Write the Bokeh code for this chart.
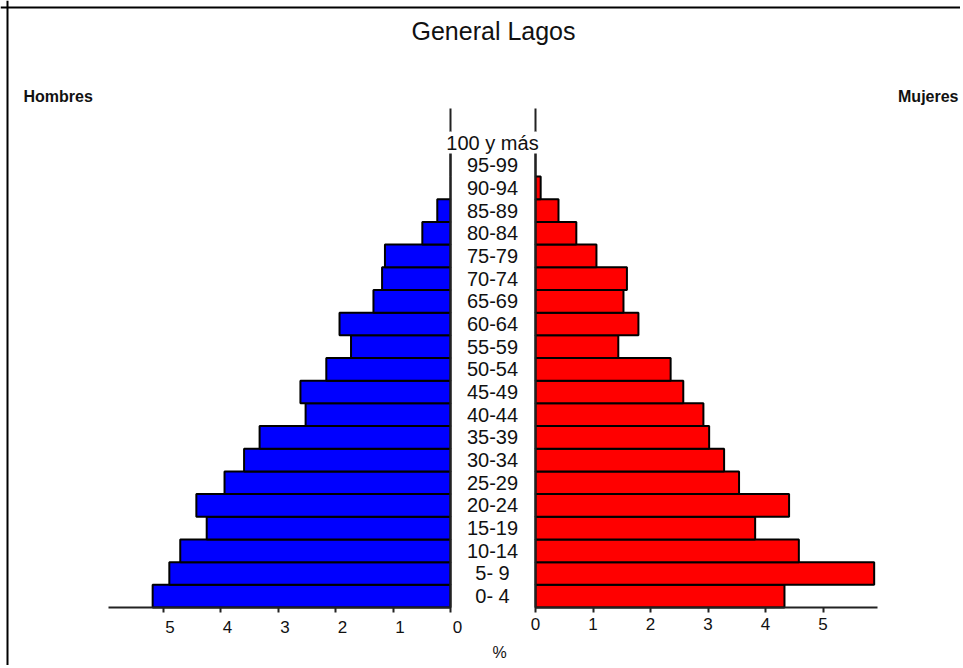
from bokeh.plotting import figure
from bokeh.models import Range1d, LinearAxis, FixedTicker, Label, ColumnDataSource
from bokeh.core.properties import value
from bokeh.embed import file_html
from bokeh.resources import INLINE

# ---------------- data ----------------
ages = ["0- 4", "5- 9", "10-14", "15-19", "20-24", "25-29", "30-34", "35-39",
        "40-44", "45-49", "50-54", "55-59", "60-64", "65-69", "70-74", "75-79",
        "80-84", "85-89", "90-94", "95-99", "100 y más"]
hombres = [5.18, 4.89, 4.70, 4.24, 4.42, 3.93, 3.59, 3.32, 2.52, 2.61, 2.16,
           1.73, 1.93, 1.34, 1.19, 1.14, 0.49, 0.23, 0.0, 0.0, 0.0]
mujeres = [4.33, 5.89, 4.58, 3.82, 4.41, 3.54, 3.28, 3.02, 2.92, 2.57, 2.35,
           1.44, 1.79, 1.53, 1.59, 1.06, 0.71, 0.40, 0.09, 0.0, 0.0]
x_ticks = [0, 1, 2, 3, 4, 5]
title_text = "General Lagos"
left_label = "Hombres"
right_label = "Mujeres"
x_label = "%"

# ---------------- geometry / style (page pixels) ----------------
FONT = "Liberation Sans"
INK = "#111111"
CW, CH = 960, 665            # canvas size; the frame fills the whole canvas
X_MAX = 5.95                 # extent of both value axes
PPU = 57.5                   # pixels per percent unit
ZERO_M, ZERO_F = 450, 535    # page x of the two zero lines
PLOT_TOP, PLOT_BOTTOM = 108, 607
ROW = (PLOT_BOTTOM - PLOT_TOP) / (len(ages) + 1)
y_start, y_end = -0.5, len(ages) + 0.5
PAD = "\u2007\u00a0"         # the male tick labels sit just right of their ticks

male_range = Range1d(start=ZERO_M / PPU, end=(ZERO_M - CW) / PPU)
female_range = Range1d(start=-ZERO_F / PPU, end=(CW - ZERO_F) / PPU)
y_range = Range1d(start=y_start - (CH - PLOT_BOTTOM) / ROW,
                  end=y_start + PLOT_BOTTOM / ROW)
page_x = Range1d(0, CW)
page_y = Range1d(CH, 0)

p = figure(width=CW, height=CH, min_border=0,
           x_range=page_x, y_range=y_range,
           x_axis_location=None, y_axis_location=None,
           toolbar_location=None, output_backend="svg")
p.extra_x_ranges = {"male": male_range, "female": female_range}
p.extra_y_ranges = {"page": page_y}
p.outline_line_color = None
p.grid.visible = False
p.background_fill_color = "white"
p.border_fill_color = "white"

src = ColumnDataSource(dict(y=list(range(len(ages))), age=ages, h=hombres, m=mujeres))

p.hbar(y="y", left=0, right="h", height=1.0, source=src, x_range_name="male",
       fill_color="#0000FF", line_color="black", line_width=2)
p.hbar(y="y", left=0, right="m", height=1.0, source=src, x_range_name="female",
       fill_color="#FF0000", line_color="black", line_width=2)

def bottom_axis(rng, overrides):
    ax = LinearAxis(x_range_name=rng, ticker=FixedTicker(ticks=x_ticks),
                    bounds=(0, X_MAX), fixed_location=y_start,
                    major_tick_in=0, major_tick_out=5, major_label_standoff=5,
                    minor_tick_line_color=None,
                    axis_line_width=2, axis_line_color="#222222",
                    major_tick_line_width=2, major_tick_line_color="#222222",
                    major_label_text_font=FONT, major_label_text_font_size="17px",
                    major_label_text_color=INK,
                    major_label_overrides=overrides)
    p.add_layout(ax, "below")

bottom_axis("male", {t: PAD + str(t) for t in x_ticks})
bottom_axis("female", {})

for rng in ("male", "female"):
    vax = LinearAxis(x_range_name=rng, fixed_location=0, bounds=(y_start, y_end),
                     ticker=FixedTicker(ticks=[]),
                     major_tick_line_color=None, minor_tick_line_color=None,
                     major_label_text_font_size="0px",
                     axis_line_width=2, axis_line_color="#222222")
    p.add_layout(vax, "left")

# chart border (left and top edges)
for side in ("left", "above"):
    p.add_layout(LinearAxis(fixed_location=7, y_range_name="page", ticker=FixedTicker(ticks=[]),
                            major_tick_line_color=None, minor_tick_line_color=None,
                            major_label_text_font_size="0px",
                            axis_line_width=2, axis_line_color="#000000"), side)

p.text(x=(ZERO_M + ZERO_F) / 2 - 0.5, y="y", text="age", source=src,
       text_align="center", text_baseline="middle",
       text_font=value(FONT), text_font_size="20px", text_color=INK,
       background_fill_color="white", level="overlay")

def label(x, y, text, align, size, style="normal"):
    p.add_layout(Label(x=x, y=y, y_range_name="page", text=text,
                       text_align=align, text_baseline="middle", text_font=FONT,
                       text_font_size=size, text_font_style=style, text_color=INK))

label(493, 30, title_text, "center", "25px")
label(23, 96, left_label, "left", "16px", "bold")
label(958, 96, right_label, "right", "16px", "bold")
label(499, 652, x_label, "center", "16px")

open("out.html", "w").write(file_html(p, INLINE, title="General Lagos"))
